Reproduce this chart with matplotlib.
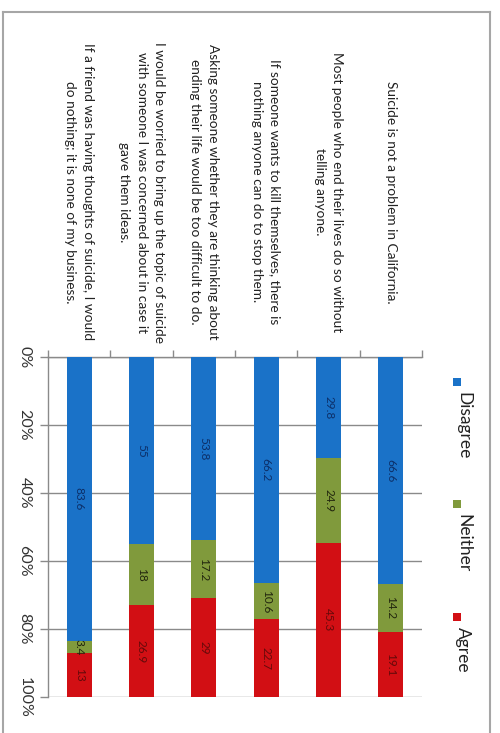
import matplotlib
matplotlib.use('Agg')
import matplotlib.pyplot as plt
import matplotlib.transforms as mtransforms
from matplotlib.patches import Rectangle
from matplotlib.lines import Line2D
import numpy as np

# ---------------- data ----------------
categories = [
    "Suicide is not a problem in California.",
    "Most people who end their lives do so without\ntelling anyone.",
    "If someone wants to kill themselves, there is\nnothing anyone can do to stop them.",
    "Asking someone whether they are thinking about\nending their life would be too difficult to do.",
    "I would be worried to bring up the topic of suicide\nwith someone I was concerned about in case it\ngave them ideas.",
    "If a friend was having thoughts of suicide, I would\ndo nothing; it is none of my business.",
]
series_names = ["Disagree", "Neither", "Agree"]
disagree = [66.6, 29.8, 66.2, 53.8, 55, 83.6]
neither = [14.2, 24.9, 10.6, 17.2, 18, 3.4]
agree = [19.1, 45.3, 22.7, 29, 26.9, 13]
tick_values = [0, 20, 40, 60, 80, 100]
tick_labels = ["0%", "20%", "40%", "60%", "80%", "100%"]

# ---------------- style ----------------
colors = ["#1a72c8", "#809a3c", "#d20f14"]
label_colors = ["#0c2f68", "#22260e", "#650a0a"]
W, H = 500, 733
font = ["Lato", "DejaVu Sans"]
plt.rcParams['font.family'] = font

fig = plt.figure(figsize=(W / 100, H / 100), dpi=100)
ax = fig.add_axes([48 / W, 1 - 697 / H, (422 - 48) / W, (697 - 357) / H])

n = len(categories)
x = n - 1 - np.arange(n) + 0.5
data = np.array([disagree, neither, agree], dtype=float)
pct = data / data.sum(axis=0) * 100

bottom = np.zeros(n)
for k in range(len(series_names)):
    ax.bar(x, pct[k], bottom=bottom, width=0.4, color=colors[k],
           edgecolor='none', zorder=3)
    for i in range(n):
        ax.text(x[i], bottom[i] + pct[k][i] / 2, f"{data[k][i]:g}",
                rotation=-90, ha='center', va='center', fontsize=8.5,
                color=label_colors[k], zorder=4)
    bottom = bottom + pct[k]

ax.set_xlim(0, n)
ax.set_ylim(100, 0)
ax.set_yticks(tick_values)
ax.set_yticklabels(tick_labels, fontsize=11.5, color="#333333")
for t in ax.get_yticklabels():
    t.set_rotation(-90)
    t.set_ha('right')
    t.set_va('center')
ax.tick_params(axis='y', length=6, color="#8a8a8a", width=1, pad=6)
ax.xaxis.tick_top()
ax.set_xticks(range(n + 1))
ax.set_xticklabels([])
ax.tick_params(axis='x', length=5, color="#8a8a8a", width=1)
ax.grid(axis='y', color="#8a8a8a", lw=1, zorder=0)
ax.set_axisbelow(True)
for s in ['right', 'bottom']:
    ax.spines[s].set_visible(False)
for s in ['left', 'top']:
    ax.spines[s].set_color("#8a8a8a")
    ax.spines[s].set_linewidth(1)

# category labels
trans = mtransforms.blended_transform_factory(ax.transData, fig.transFigure)
for i, c in enumerate(categories):
    ax.text(x[i], 1 - 192 / H, c, transform=trans, rotation=-90,
            ha='center', va='center', multialignment='center',
            fontsize=9.8, color="#222222", linespacing=1.55)

# legend (rotated)
leg_sq_y = [382, 504, 617]
for k, name in enumerate(series_names):
    fig.add_artist(Rectangle(((457 - 4) / W, 1 - (leg_sq_y[k] + 4) / H),
                             8 / W, 8 / H, transform=fig.transFigure,
                             facecolor=colors[k], edgecolor='none'))
    fig.text(463 / W, 1 - (leg_sq_y[k] + 10) / H, name, rotation=-90,
             ha='center', va='top', fontsize=12.5, color="#222222")

# outer frame
fc = "#a6a6a6"
fig.add_artist(Line2D([3 / W, 3 / W], [0, 1 - 12 / H], transform=fig.transFigure, color=fc, lw=1.5))
fig.add_artist(Line2D([3 / W, 490 / W], [1 - 12 / H, 1 - 12 / H], transform=fig.transFigure, color=fc, lw=1.5))
fig.add_artist(Line2D([490 / W, 490 / W], [0, 1 - 12 / H], transform=fig.transFigure, color=fc, lw=1.5))

fig.savefig("out.png", dpi=100)
